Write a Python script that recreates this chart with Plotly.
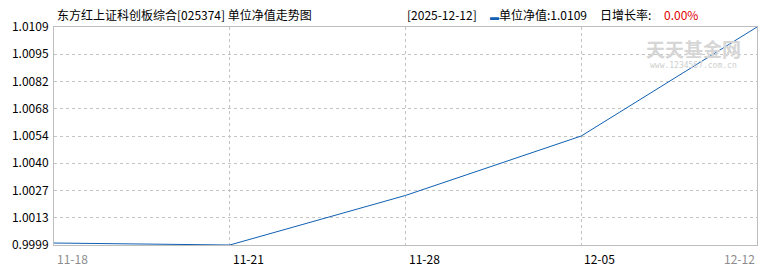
import plotly.graph_objects as go

dates = ["11-18", "11-21", "11-28", "12-05", "12-12"]
nav = [1.0000, 0.9999, 1.0024, 1.0054, 1.0109]
y_ticks = [0.9999, 1.0013, 1.0027, 1.0040, 1.0054, 1.0068, 1.0082, 1.0095, 1.0109]
y_tick_text = ["0.9999", "1.0013", "1.0027", "1.0040", "1.0054", "1.0068", "1.0082", "1.0095", "1.0109"]
title_text = "东方红上证科创板综合[025374] 单位净值走势图"
last_date = "2025-12-12"
daily_growth = "0.00%"

FONT = "Noto Sans CJK SC"
LINE = "#0f5fb3"
GRID = "#c4c4c4"

fig = go.Figure()
fig.add_trace(go.Scatter(
    x=list(range(len(dates))), y=nav, mode="lines",
    line=dict(color=LINE, width=1), hoverinfo="skip", showlegend=False,
))

# evenly spaced y ticks between min and max of the axis
ymin, ymax = y_ticks[0], y_ticks[-1]
n = len(y_ticks) - 1
tickpos = [ymin + (ymax - ymin) * i / n for i in range(n + 1)]

fig.update_layout(
    width=770, height=270,
    margin=dict(l=53, r=12, t=27, b=25),
    paper_bgcolor="white", plot_bgcolor="white",
    font=dict(family=FONT, size=12, color="#000"),
    xaxis=dict(
        range=[0, len(dates) - 1],
        tickvals=list(range(1, len(dates) - 1)),
        showticklabels=False,
        showgrid=True, gridcolor=GRID, griddash="3px,3px", gridwidth=1,
        showline=True, linecolor="#bdbdbd", linewidth=1, mirror=True,
        zeroline=False, ticks="",
    ),
    yaxis=dict(
        range=[ymin, ymax],
        tickvals=tickpos, ticktext=y_tick_text,
        showgrid=True, gridcolor=GRID, griddash="3px,3px", gridwidth=1,
        showline=True, linecolor="#bdbdbd", linewidth=1, mirror=True,
        zeroline=False, ticks="", ticklabelstandoff=2,
        tickfont=dict(family=FONT, size=12, color="#000"),
    ),
)

annotations = []
# watermark (drawn first, beneath other text)
annotations.append(dict(
    x=(694 - 53) / 705, y=1, xref="paper", yref="paper", text="<b>天天基金网</b>",
    showarrow=False, xanchor="center", yanchor="top", yshift=-6,
    font=dict(family=FONT, size=19, color="#d6d6d6"),
))
annotations.append(dict(
    x=(694 - 53) / 705, y=1, xref="paper", yref="paper", text="www.1234567.com.cn",
    showarrow=False, xanchor="center", yanchor="top", yshift=-32,
    font=dict(family="DejaVu Sans Mono", size=8, color="#cfcfcf"),
))

# x tick labels (left-aligned at tick, last one right-aligned)
for i, d in enumerate(dates):
    last = i == len(dates) - 1
    first = i == 0
    annotations.append(dict(
        x=i, y=0, xref="x", yref="paper", text=d, showarrow=False,
        xanchor="right" if last else "left", yanchor="top",
        xshift=0 if last else 1, yshift=-3,
        font=dict(family=FONT, size=12, color="#8c8c8c" if (first or last) else "#000"),
    ))

# title
annotations.append(dict(
    x=0, y=1, xref="paper", yref="paper", text=title_text, showarrow=False,
    xanchor="left", yanchor="bottom", xshift=1, yshift=2,
    font=dict(family=FONT, size=12, color="#000"),
))

def hdr(px, text, color="#000", size=12):
    return dict(x=(px - 53) / 705, y=1, xref="paper", yref="paper", text=text,
                showarrow=False, xanchor="left", yanchor="bottom", yshift=2,
                font=dict(family=FONT, size=size, color=color))

annotations.append(hdr(405, "[" + last_date + "]"))
annotations.append(hdr(488, "▬", LINE, 9))
annotations.append(hdr(497, "单位净值:" + f"{nav[-1]:.4f}"))
annotations.append(hdr(599, "日增长率:"))
annotations.append(hdr(663, daily_growth, "#e00000"))

fig.update_layout(annotations=annotations)
fig.write_html("out.html")
